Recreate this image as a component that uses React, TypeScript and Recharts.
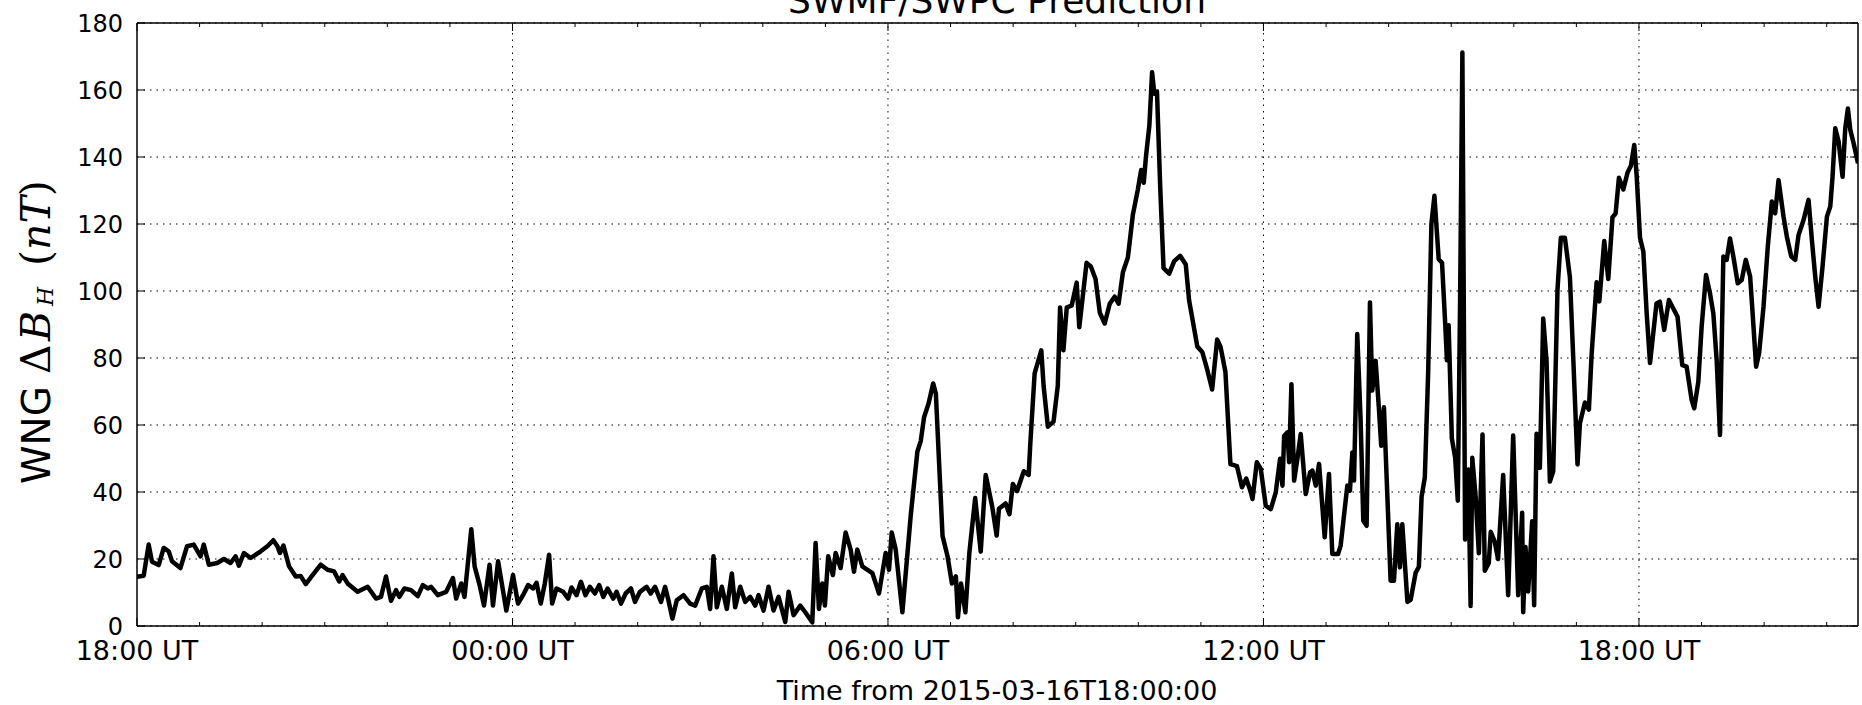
import React from 'react';
import { LineChart, Line, XAxis, YAxis, CartesianGrid, ReferenceLine } from 'recharts';

// minutes after 2015-03-16 18:00 UT
const minutes = [
  0, 6.4, 11.2, 14.4, 20.8, 25.6, 30.4, 33.6, 41.6, 48, 54.4, 60.9, 64, 68.9, 76.9, 83.3, 89.7, 94.5, 97.7, 102.5,
  109, 118.6, 125, 130.7, 134.6, 137, 140.4, 145.8, 152.2, 157, 161.8, 168.3, 176.2, 182.7, 189, 193.9, 197.1, 201.9, 211.5, 221.1,
  229.1, 233.9, 238.7, 243.5, 248.4, 251.5, 256.4, 262.8, 269.2, 274, 278.8, 282, 288.4, 296.4, 302.9, 306, 310.9, 314, 320.5, 323.7,
  328.5, 332.7, 338, 341.3, 346.2, 354.1, 360.5, 365.3, 370.1, 375, 379.8, 383, 387.1, 391, 395.1, 398, 402.2, 408.6, 413.4, 416.6,
  421.4, 425.6, 430, 434.2, 439, 443.2, 447, 451.2, 456.6, 459.8, 464, 468.5, 473.6, 477.4, 482.2, 488.6, 492.5, 496.7, 502.4, 506.3,
  509.5, 513.3, 517.5, 523.9, 530.3, 535.1, 541.5, 546.3, 549.5, 552.7, 555.9, 560.7, 565.5, 570.3, 573.5, 578.3, 583.1, 587.9, 592.7, 595.9,
  600.7, 605.5, 610.3, 615.1, 621.5, 624.7, 629.5, 635.9, 640.7, 647.4, 650.6, 653.8, 657, 659.5, 662.7, 667.2, 669.8, 674.6, 679.4, 684.2,
  687.4, 690.6, 695.4, 705, 711.4, 717.8, 721, 723.6, 727.4, 733.8, 741.8, 748.2, 751.4, 754.6, 758.8, 763.3, 765.9, 769.1, 772.3, 777.1,
  781.3, 785.1, 787.1, 790, 794.2, 798, 803.6, 808.9, 813.7, 820, 824.2, 826.4, 832.7, 836.5, 839.7, 843.8, 850.2, 854.9, 856.5, 860.6,
  867, 869.2, 873.3, 878.7, 882.8, 885, 888.2, 891.4, 896.1, 900.9, 903.4, 906.3, 910.4, 914.5, 919, 923.1, 927.8, 932.6, 937.3, 941.1,
  945.3, 950, 954.8, 959.5, 962.7, 965.2, 967.4, 970.6, 973.2, 975.4, 977.9, 981.1, 984.2, 989.6, 994.4, 1000.1, 1005.5, 1008.7, 1016.6, 1021.3,
  1026.1, 1030.8, 1035.6, 1038.8, 1043.5, 1048.3, 1054.6, 1059.4, 1063.5, 1067.9, 1069.5, 1073.6, 1077.4, 1082.2, 1087, 1091.8, 1095.9, 1098.2, 1099.8, 1103,
  1104.6, 1106.8, 1109.4, 1112.5, 1115.7, 1120.5, 1124.7, 1126.9, 1130.1, 1133.3, 1138.7, 1142.8, 1146, 1151.5, 1154, 1160.4, 1162.9, 1165.2, 1166.8, 1169.9,
  1173.1, 1175.7, 1178.9, 1182.1, 1184.3, 1187.5, 1190.7, 1192.9, 1195.5, 1201.9, 1205.1, 1208.3, 1210.8, 1213.1, 1218, 1221.1, 1225.9, 1229, 1231.6, 1234.7,
  1237.9, 1241, 1243.9, 1248, 1251.2, 1254.3, 1255.9, 1257.5, 1260.6, 1263.8, 1266.3, 1268.5, 1270.7, 1273.3, 1276.4, 1278.6, 1280.2, 1283.4, 1286.5, 1290,
  1292.2, 1296, 1297.9, 1301.7, 1304.9, 1309.8, 1314.6, 1319.4, 1324.2, 1328, 1329, 1331.2, 1333.8, 1337.6, 1339.5, 1341.8, 1345, 1348.2, 1351.4, 1354.6,
  1357.8, 1361.9, 1365.1, 1369, 1373.8, 1377, 1381.1, 1383.4, 1388.2, 1392, 1394.6, 1399.4, 1402, 1406.7, 1410.6, 1414.6, 1417.6, 1420.8, 1425, 1429.1,
  1432.3, 1435.5, 1437.8, 1441, 1444.2, 1447.4, 1450.6, 1456.8, 1460, 1464.2, 1468.7, 1472.9, 1477, 1481.5, 1485.7, 1490.5, 1493, 1496.9, 1500.1, 1504.3,
  1508.1, 1511.3, 1514.5, 1517.7, 1520.9, 1524.1, 1527.3, 1530.5, 1534.7, 1538.5, 1542.4, 1546.6, 1549.8, 1552.3, 1555.2, 1559.4, 1563.5, 1567.4, 1570.6, 1573.8,
  1578.6, 1581.8, 1586, 1589.8, 1593, 1597.8, 1602.6, 1605.8, 1609, 1612.2, 1616, 1620.2, 1623.4, 1625.6, 1628.2, 1631.4, 1635.2, 1637.8, 1640.3, 1642.6,
  1645.8, 1650,
];

// WNG delta B_H (nT)
const dbh = [
  14.7, 15, 24.3, 19.2, 18.2, 23.3, 22.3, 19.3, 17.3, 23.8, 24.3, 20.8, 24.3, 18.3, 18.8, 20, 18.8, 20.8, 18, 21.8,
  20.3, 22.3, 23.8, 25.6, 23.8, 21.8, 24, 17.8, 14.8, 14.9, 12.5, 15.2, 18.3, 16.8, 16.3, 13.3, 15.2, 12.7, 10.2, 11.7,
  8.2, 8.7, 14.8, 7.5, 10.7, 8.7, 11.2, 10.7, 8.9, 12.2, 11.2, 11.7, 9.2, 10.2, 14.3, 8.2, 12.7, 8.7, 28.9, 17.8,
  12.2, 6.1, 18.3, 6.1, 19.3, 4.6, 15.2, 6.7, 9.2, 12.2, 11.2, 12.9, 6.7, 12.7, 21.3, 6.7, 11.2, 10.2, 8.2, 11.5,
  9.2, 13.2, 9.2, 11.7, 9.7, 12.2, 8.7, 11.2, 8.2, 10.2, 6.7, 9.7, 11.2, 7.2, 10.2, 11.7, 9.7, 11.7, 7.2, 11.7,
  7.7, 2.2, 7.7, 9.2, 6.7, 6.1, 11.2, 11.7, 5.1, 20.8, 5.6, 11.7, 5.1, 15.7, 5.6, 11.7, 7.2, 8.7, 6.1, 9.2,
  4.6, 11.7, 4.6, 8.7, 1.2, 10.2, 3.2, 6.1, 4.1, 1.1, 24.8, 5.1, 12.7, 6.1, 20.8, 15.2, 21.8, 17.3, 27.9, 22.8,
  16.2, 22.8, 17.8, 15.8, 9.7, 21.8, 16.8, 27.9, 22.8, 4.1, 33, 52.1, 55.2, 62.3, 66.3, 72.4, 69.4, 48.1, 26.9, 20.8,
  12.7, 14.8, 2.6, 12.7, 4.1, 21.8, 38.2, 22.2, 45.1, 35.5, 27, 35, 36.6, 33.4, 42.4, 40.3, 46.2, 45.1, 54.7, 75.4,
  82.3, 71.7, 59.5, 61, 71.7, 95.1, 82.3, 95.1, 95.6, 102.5, 89.2, 97.2, 108.4, 107.3, 103.6, 93.5, 90.3, 96.2, 98.3, 96.2,
  105.7, 110, 122.8, 130.2, 136.1, 132.3, 140.3, 149.4, 165.3, 158.9, 159.5, 130.2, 106.8, 105.2, 108.9, 110.5, 107.9, 97.2, 83.4, 81.8,
  76.5, 70.6, 85.5, 83.4, 75.9, 48.3, 47.7, 41.4, 44, 39.9, 37.9, 48.9, 46.9, 35.9, 34.9, 39.9, 49.9, 41.9, 56.8, 57.8,
  48.9, 72.2, 43.4, 49.9, 57.3, 39.4, 45.9, 46.4, 41.9, 48.4, 26.5, 45.4, 21.5, 21.5, 24, 41.9, 40.4, 51.8, 43.4, 87.2,
  61.8, 31.4, 29.9, 96.6, 70.3, 79.2, 64.8, 53.8, 65.3, 13.5, 13.5, 30.4, 17.5, 30.4, 7.2, 7.8, 15.9, 17.7, 38.6, 44.4,
  75.8, 120, 128.4, 109.5, 108.4, 89.8, 79.3, 89.8, 56, 50.2, 37.4, 96.7, 171.2, 25.8, 46.7, 6, 50.2, 38.6, 21.7, 57.2,
  16.5, 18.8, 28.1, 25.2, 20, 45.1, 9.2, 56.9, 9.2, 33.8, 4.1, 23.6, 10.3, 31.3, 6.2, 57.4, 47.2, 91.8, 79, 43.1,
  46.2, 100.5, 115.9, 115.9, 104.1, 80, 48.2, 60.5, 66.7, 64.6, 81, 102.6, 96.9, 114.9, 103.6, 122, 123.1, 133.8, 130.3, 135.4,
  137.4, 143.6, 134.4, 115.9, 111.8, 93.3, 78.5, 96.3, 96.8, 88.4, 97.3, 94.8, 92.3, 77.9, 77.4, 67.5, 65, 72.9, 89.4, 104.8,
  99.3, 93.3, 79.4, 57, 110.3, 109.3, 115.7, 110.3, 102.3, 103.3, 109.3, 104.3, 89.4, 77.4, 81.4, 95.3, 113.2, 126.7, 123.2, 133.1,
  122.2, 116.2, 110.3, 109.3, 116.7, 121.2, 127.2, 115.2, 104.3, 95.3, 107.3, 122.2, 125.2, 134.1, 148.6, 144.6, 134.1, 148.6, 154.5, 148.1,
  144.1, 138.1,
];

const hourTicks = Array.from({ length: 28 }, (_, i) => i * 60);
const majorLabels: Record<number, string> = {
  0: '18:00 UT',
  360: '00:00 UT',
  720: '06:00 UT',
  1080: '12:00 UT',
  1440: '18:00 UT',
};
const majorTimes = [360, 720, 1080, 1440];
const yTicks = [0, 20, 40, 60, 80, 100, 120, 140, 160, 180];

const chartTitle = 'SWMF/SWPC Prediction';
const xTitle = 'Time from 2015-03-16T18:00:00';

const data = minutes.map((t, i) => ({ t, v: dbh[i] }));

const SANS = '"DejaVu Sans", sans-serif';
const SERIF = '"DejaVu Serif", serif';

const BottomTick = (props: any) => {
  const { x, y, payload } = props;
  const label = majorLabels[payload.value];
  return (
    <g>
      <line x1={x} x2={x} y1={y} y2={y - (label ? 8 : 4)} stroke="#000" strokeWidth={1} />
      {label && (
        <text x={x} y={y + 34} textAnchor="middle" fontSize={27} fontFamily={SANS} fill="#000">
          {label}
        </text>
      )}
    </g>
  );
};

const TopTick = (props: any) => {
  const { x, y, payload } = props;
  const major = majorLabels[payload.value] !== undefined;
  return <line x1={x} x2={x} y1={y} y2={y + (major ? 8 : 4)} stroke="#000" strokeWidth={1} />;
};

const LeftTick = (props: any) => {
  const { x, y, payload } = props;
  return (
    <g>
      <line x1={x} x2={x + 8} y1={y} y2={y} stroke="#000" strokeWidth={1} />
      <text x={x - 14} y={y} dy="0.36em" textAnchor="end" fontSize={24} fontFamily={SANS} fill="#000">
        {payload.value}
      </text>
    </g>
  );
};

const RightTick = (props: any) => {
  const { x, y } = props;
  return <line x1={x} x2={x - 8} y1={y} y2={y} stroke="#000" strokeWidth={1} />;
};

// y label drawn piece by piece: sans "WNG", then math-style serif "ΔB_H (nT)"
const YLabel = () => (
  <g fill="#000">
    <text transform="translate(50,484) rotate(-90)" fontSize={39} fontFamily={SANS}>WNG</text>
    <text transform="translate(50,374) rotate(-90)" fontSize={41} fontFamily={SERIF}>Δ</text>
    <text transform="translate(50,341) rotate(-90)" fontSize={41} fontFamily={SERIF} fontStyle="italic">B</text>
    <text transform="translate(53,306) rotate(-90)" fontSize={22} fontFamily={SERIF} fontStyle="italic">H</text>
    <text transform="translate(50,266) rotate(-90)" fontSize={41} fontFamily={SERIF}>
      (<tspan fontStyle="italic">nT</tspan>)
    </text>
  </g>
);

const TitleLabel = () => (
  <text x={997} y={13} textAnchor="middle" fontSize={36} fontFamily={SANS} fill="#000">
    {chartTitle}
  </text>
);

const XLabel = () => (
  <text x={997} y={700} textAnchor="middle" fontSize={27} fontFamily={SANS} fill="#000">
    {xTitle}
  </text>
);

export default function App() {
  return (
    <div style={{ position: 'absolute', left: 0, top: 0, width: 1862, height: 705, background: '#fff' }}>
      <LineChart width={1862} height={705} data={data} margin={{ top: 0, right: 0, bottom: 0, left: 0 }}>
        <CartesianGrid vertical={false} stroke="#000" strokeWidth={1} strokeDasharray="1.5 5" />
        {majorTimes.map((t) => (
          <ReferenceLine key={t} x={t} stroke="#000" strokeWidth={1} strokeDasharray="1.5 5" />
        ))}
        <XAxis
          dataKey="t"
          type="number"
          domain={[0, 1650]}
          ticks={hourTicks}
          interval={0}
          height={79}
          tickSize={0}
          tickMargin={0}
          tickLine={false}
          axisLine={{ stroke: '#000', strokeWidth: 1.5 }}
          tick={<BottomTick />}
          label={<XLabel />}
          allowDataOverflow
        />
        <XAxis
          xAxisId="top"
          orientation="top"
          dataKey="t"
          type="number"
          domain={[0, 1650]}
          ticks={hourTicks}
          interval={0}
          height={23}
          tickSize={0}
          tickMargin={0}
          tickLine={false}
          axisLine={{ stroke: '#000', strokeWidth: 1.5 }}
          tick={<TopTick />}
          label={<TitleLabel />}
          allowDataOverflow
        />
        <YAxis
          type="number"
          domain={[0, 180]}
          ticks={yTicks}
          interval={0}
          width={137}
          tickSize={0}
          tickMargin={0}
          tickLine={false}
          axisLine={{ stroke: '#000', strokeWidth: 1.5 }}
          tick={<LeftTick />}
          label={<YLabel />}
          allowDataOverflow
        />
        <YAxis
          yAxisId="right"
          orientation="right"
          type="number"
          domain={[0, 180]}
          ticks={yTicks}
          interval={0}
          width={4}
          tickSize={0}
          tickMargin={0}
          tickLine={false}
          axisLine={{ stroke: '#000', strokeWidth: 1.5 }}
          tick={<RightTick />}
          allowDataOverflow
        />
        <Line
          type="linear"
          dataKey="v"
          stroke="#000"
          strokeWidth={4.5}
          strokeLinejoin="round"
          dot={false}
          activeDot={false}
          isAnimationActive={false}
        />
      </LineChart>
    </div>
  );
}
